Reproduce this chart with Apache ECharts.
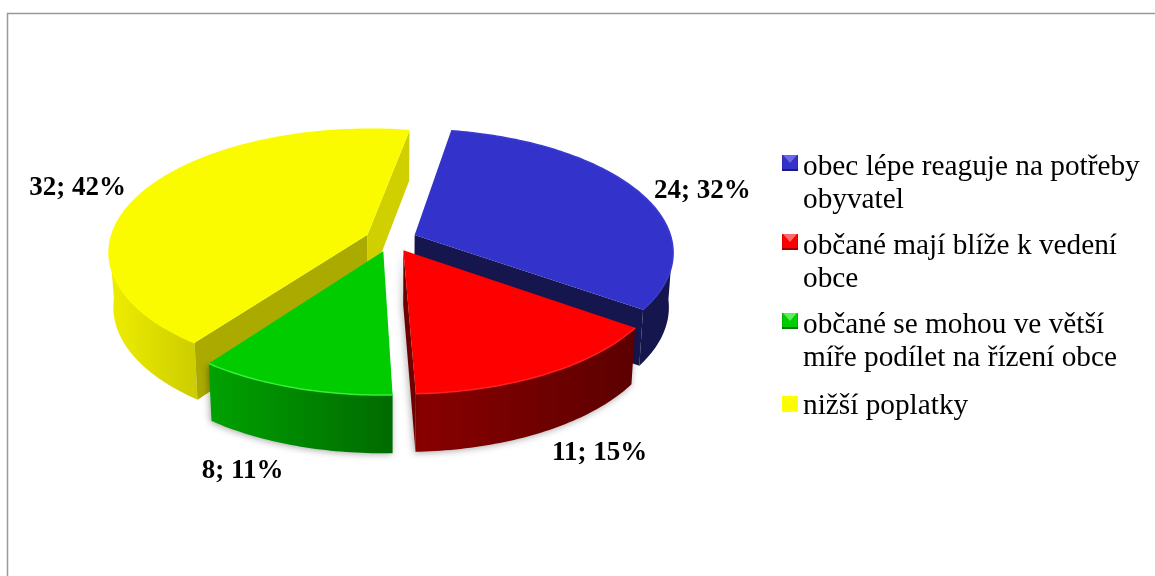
<!DOCTYPE html>
<html><head><meta charset="utf-8">
<style>html,body{margin:0;padding:0;background:#fff}#c{width:1155px;height:576px}</style>
<script src="https://cdn.jsdelivr.net/npm/echarts@6/dist/echarts.min.js"></script>
</head><body><div id="c"></div>
<script>
const categories = ['obec lépe reaguje na potřeby obyvatel','občané mají blíže k vedení obce','občané se mohou ve větší míře podílet na řízení obce','nižší poplatky'];
const legendLines = ['obec lépe reaguje na potřeby\nobyvatel','občané mají blíže k vedení\nobce','občané se mohou ve větší\nmíře podílet na řízení obce','nižší poplatky'];
const values = [24,11,8,32];
const percents = ['32%','15%','11%','42%'];

// styling
const topColors = ['#3333cc','#ff0000','#00cc00','#fbfb00'];
const rimColors = ['#3b3bd0','#ff2020','#35f035','#fbfb00'];
const outerGrad = [['#16164f','#16164f'],['#8a0000','#5c0000'],['#00a200','#006a00'],['#eeee00','#cccc00']];
const startWall = ['#16164f','#7a0000','#006a00','#aaaa00'];
const endWall = ['#16164f','#6e0000','#00a000','#d0d000'];
const iconShade = [['#6a6ae6','#2c2cb4','#1c1c80'],['#ff6a6a','#e00000','#a00000'],['#5aef5a','#00b400','#007a00'],['#ffff00','#ffff00','#ffff00']];
const labelNudge = [[64,0],[54,79],[-51,83],[-68,-2]];

// pie geometry
const CX=391,CY=239.5,A=257,B=121,P=0.135,EXPL=0.1,M=0.985,H0=54,H1=3.8,START=10;
const total = values.reduce((a,b)=>a+b,0);
const rad = d=>d*Math.PI/180;
function project(u,v,bottom){
  const k=1/(1-P*v);
  let x=CX+A*u*k,y=CY+B*v*k;
  if(bottom){x=CX+(x-CX)*M;y+=H0+H1*v;}
  return [x,y];
}
function sliceRange(i){
  let s=START;
  for(let j=0;j<i;j++) s+=values[j]/total*360;
  return [s,s+values[i]/total*360];
}
function renderSlice(params,api){
  const i=params.seriesIndex;
  const val=api.value(0);
  const [t0,t1]=sliceRange(i);
  const mid=(t0+t1)/2;
  const ox=EXPL*Math.sin(rad(mid)),oy=-EXPL*Math.cos(rad(mid));
  const pt=(t,r,bottom)=>project(ox+r*Math.sin(rad(t)),oy-r*Math.cos(rad(t)),bottom);
  const angles=[];
  for(let t=t0;t<t1;t+=1) angles.push(t);
  angles.push(t1);
  const arc=angles.map(t=>pt(t,1,false));
  const front=angles.filter(t=>-Math.cos(rad(t))>0.08);
  const apexT=pt(t0,0,false),apexB=pt(t0,0,true);
  const children=[];
  const shadow={shadowBlur:7,shadowColor:'rgba(0,0,0,0.35)',shadowOffsetX:-1,shadowOffsetY:1};
  if(front.length>1){
    const pts=front.map(t=>pt(t,1,false)).concat(front.slice().reverse().map(t=>pt(t,1,true)));
    children.push({type:'polygon',shape:{points:pts},style:Object.assign({fill:new echarts.graphic.LinearGradient(0,0,1,0,[{offset:0,color:outerGrad[i][0]},{offset:1,color:outerGrad[i][1]}])},i===0||i===3?{}:shadow)});
  }
  if(Math.sin(rad(t0))<0){
    children.push({type:'polygon',shape:{points:[apexT,pt(t0,1,false),pt(t0,1,true),apexB]},style:{fill:startWall[i]}});
  }
  if(Math.sin(rad(t1))>0){
    children.push({type:'polygon',shape:{points:[apexT,pt(t1,1,false),pt(t1,1,true),apexB]},style:Object.assign({fill:endWall[i]},i===1?shadow:{})});
  }
  children.push({type:'polygon',shape:{points:[apexT].concat(arc)},style:{fill:topColors[i]}});
  children.push({type:'polyline',shape:{points:arc},style:{fill:null,stroke:rimColors[i],lineWidth:1.5}});
  const a=pt(mid,1,false);
  children.push({type:'text',x:a[0]+labelNudge[i][0],y:a[1]+labelNudge[i][1],style:{text:val+'; '+percents[i],font:'bold 27px "Liberation Serif"',fill:'#000',align:'center',verticalAlign:'middle'}});
  return {type:'group',children};
}
function icon(i,h){
  const [l,m,d]=iconShade[i],b=topColors[i];
  const svg='<svg xmlns="http://www.w3.org/2000/svg" width="16" height="'+h+'" viewBox="0 0 16 '+h+'">'
    +'<rect width="16" height="16" fill="'+b+'"/>'
    +'<rect x="0" y="0" width="1" height="16" fill="'+m+'"/><rect x="15" y="0" width="1" height="16" fill="'+m+'"/>'
    +'<polygon points="1,0 15,0 8,8" fill="'+l+'"/>'
    +'<rect x="0" y="14" width="16" height="2" fill="'+d+'"/></svg>';
  return 'image://data:image/svg+xml;charset=utf-8,'+encodeURIComponent(svg);
}
const legendText={fontFamily:'"Liberation Serif"',fontSize:29.3,lineHeight:33,color:'#000'};
const fmt=name=>legendLines[categories.indexOf(name)];
const chart=echarts.init(document.getElementById('c'),null,{renderer:'canvas'});
chart.setOption({
  animation:false,
  backgroundColor:'#fff',
  tooltip:{show:false},
  graphic:[{type:'polyline',silent:true,shape:{points:[[7.5,576],[7.5,13.5],[1155,13.5]]},style:{fill:null,stroke:'#999999',lineWidth:1.5}}],
  legend:[
    {left:782,top:150.5,orient:'vertical',itemWidth:16,itemHeight:57,itemGap:13,selectedMode:false,align:'left',padding:0,textStyle:legendText,formatter:fmt,
     data:[0,1,2].map(i=>({name:categories[i],icon:icon(i,57)}))},
    {left:782,top:389.5,orient:'vertical',itemWidth:16,itemHeight:20,selectedMode:false,align:'left',padding:0,textStyle:legendText,formatter:fmt,
     data:[{name:categories[3],icon:icon(3,20)}]}
  ],
  series:categories.map((name,i)=>{
    const [t0,t1]=sliceRange(i);
    return {type:'custom',name,coordinateSystem:'none',renderItem:renderSlice,
      z:-Math.cos(rad((t0+t1)/2))>0?3:2,
      itemStyle:{color:topColors[i]},data:[[values[i]]],silent:true};
  })
});
</script></body></html>
